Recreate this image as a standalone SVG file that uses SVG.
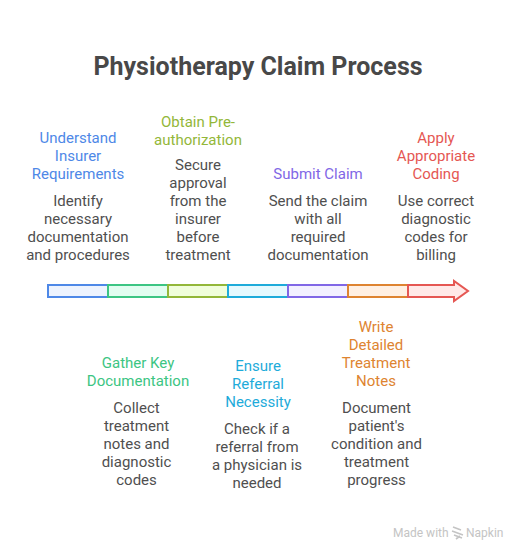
<svg xmlns="http://www.w3.org/2000/svg" width="516" height="550" viewBox="0 0 516 550">
<style>
text{font-family:Roboto,"Liberation Sans",sans-serif;text-anchor:middle}
.t{font-size:25px;font-weight:700;fill:#484848}
.h{font-size:15px}
.b{font-size:15px;fill:#4f4f4f}
.s{stroke-width:2}
.w{font-size:12px;fill:#c4c4c4;text-anchor:start}
</style>
<rect width="516" height="550" fill="#fff"/>
<text class="t" x="258" y="75">Physiotherapy Claim Process</text>
<g id="connectors">
<rect class="s" x="48" y="285" width="60" height="12" fill="#edf3fe" stroke="#4e88e7"/>
<rect class="s" x="108" y="285" width="60" height="12" fill="#e1fdf0" stroke="#3cc583"/>
<rect class="s" x="168" y="285" width="60" height="12" fill="#f0fedb" stroke="#93b739"/>
<rect class="s" x="228" y="285" width="60" height="12" fill="#e5f9fe" stroke="#1eabda"/>
<rect class="s" x="288" y="285" width="60" height="12" fill="#f3f0ff" stroke="#8167e6"/>
<rect class="s" x="348" y="285" width="60" height="12" fill="#fff0e3" stroke="#de8431"/>
<path class="s" d="M408 285H454V281L468 291L454 301V297H408Z" fill="#ffe9e8" stroke="#e55753"/>
</g>
<g id="node-understand">
<text class="h" fill="#4e88e7" x="78" y="143">Understand</text>
<text class="h" fill="#4e88e7" x="78" y="161">Insurer</text>
<text class="h" fill="#4e88e7" x="78" y="179">Requirements</text>
<text class="b" x="78" y="206">Identify</text>
<text class="b" x="78" y="224">necessary</text>
<text class="b" x="78" y="242">documentation</text>
<text class="b" x="78" y="260">and procedures</text>
</g>
<g id="node-obtain">
<text class="h" fill="#93b739" x="198" y="127">Obtain Pre-</text>
<text class="h" fill="#93b739" x="198" y="145">authorization</text>
<text class="b" x="198" y="170">Secure</text>
<text class="b" x="198" y="188">approval</text>
<text class="b" x="198" y="206">from the</text>
<text class="b" x="198" y="224">insurer</text>
<text class="b" x="198" y="242">before</text>
<text class="b" x="198" y="260">treatment</text>
</g>
<g id="node-submit">
<text class="h" fill="#8167e6" x="318" y="179">Submit Claim</text>
<text class="b" x="318" y="206">Send the claim</text>
<text class="b" x="318" y="224">with all</text>
<text class="b" x="318" y="242">required</text>
<text class="b" x="318" y="260">documentation</text>
</g>
<g id="node-apply">
<text class="h" fill="#e55753" x="436" y="143">Apply</text>
<text class="h" fill="#e55753" x="436" y="161">Appropriate</text>
<text class="h" fill="#e55753" x="436" y="179">Coding</text>
<text class="b" x="436" y="206">Use correct</text>
<text class="b" x="436" y="224">diagnostic</text>
<text class="b" x="436" y="242">codes for</text>
<text class="b" x="436" y="260">billing</text>
</g>
<g id="node-gather">
<text class="h" fill="#3cc583" x="138" y="368">Gather Key</text>
<text class="h" fill="#3cc583" x="138" y="386">Documentation</text>
<text class="b" x="136.5" y="413">Collect</text>
<text class="b" x="136.5" y="431">treatment</text>
<text class="b" x="136.5" y="449">notes and</text>
<text class="b" x="136.5" y="467">diagnostic</text>
<text class="b" x="136.5" y="485">codes</text>
</g>
<g id="node-ensure">
<text class="h" fill="#1eabda" x="258" y="371">Ensure</text>
<text class="h" fill="#1eabda" x="258" y="389">Referral</text>
<text class="h" fill="#1eabda" x="258" y="407">Necessity</text>
<text class="b" x="257" y="434">Check if a</text>
<text class="b" x="257" y="452">referral from</text>
<text class="b" x="257" y="470">a physician is</text>
<text class="b" x="257" y="488">needed</text>
</g>
<g id="node-write">
<text class="h" fill="#de8431" x="376" y="332">Write</text>
<text class="h" fill="#de8431" x="376" y="350">Detailed</text>
<text class="h" fill="#de8431" x="376" y="368">Treatment</text>
<text class="h" fill="#de8431" x="376" y="386">Notes</text>
<text class="b" x="376.5" y="413">Document</text>
<text class="b" x="376.5" y="431">patient's</text>
<text class="b" x="376.5" y="449">condition and</text>
<text class="b" x="376.5" y="467">treatment</text>
<text class="b" x="376.5" y="485">progress</text>
</g>
<g id="watermark">
<text class="w" x="393" y="537">Made with</text>
<path d="M453 527L461 530M452 531L463 535M454 535L462 538M456 539L460 536" fill="none" stroke="#c4c4c4" stroke-width="1.6"/>
<text class="w" x="466" y="537">Napkin</text>
</g>
</svg>
